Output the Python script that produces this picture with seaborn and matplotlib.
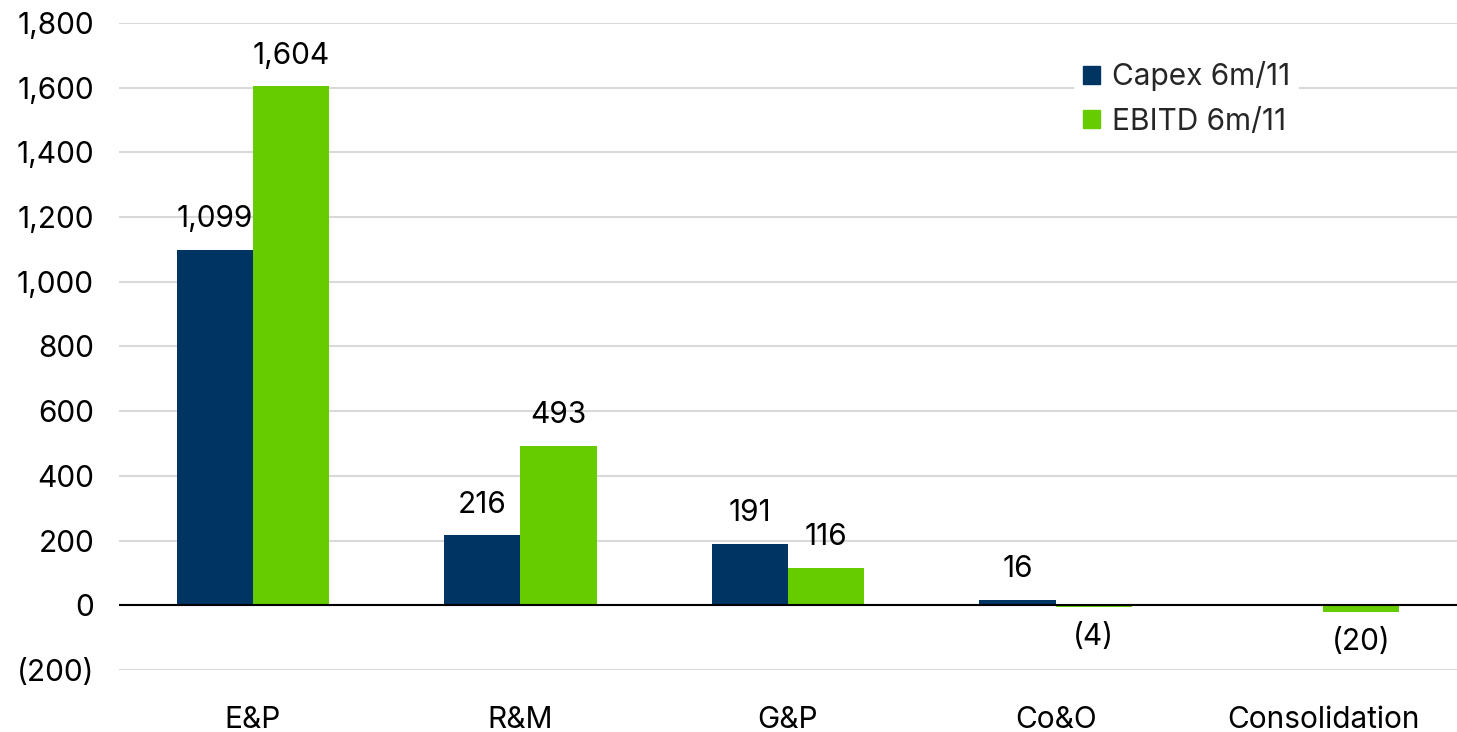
import matplotlib
matplotlib.use("Agg")
import matplotlib.pyplot as plt
import seaborn as sns
import pandas as pd
from matplotlib.ticker import FuncFormatter, MultipleLocator
from matplotlib.patches import Patch

segments = ["E&P", "R&M", "G&P", "Co&O", "Consolidation"]
capex = [1099, 216, 191, 16, 0]
ebitd = [1604, 493, 116, -4, -20]
series_names = ["Capex 6m/11", "EBITD 6m/11"]
colors = ["#003462", "#66CC00"]

df = pd.DataFrame({
    "segment": segments * 2,
    "value": capex + ebitd,
    "series": [series_names[0]] * len(segments) + [series_names[1]] * len(segments),
})

sns.set_theme(style="white")
plt.rcParams["font.family"] = ["Inter", "DejaVu Sans"]

fig = plt.figure(figsize=(14.57, 7.32), dpi=100)
ax = fig.add_axes([0.0817, 0.0847, 0.9183, 0.8839])

sns.barplot(data=df, x="segment", y="value", hue="series", palette=colors,
            width=0.57, saturation=1, linewidth=0, ax=ax, legend=False)

def paren(v, _=None):
    v = int(round(v))
    return f"({abs(v):,})" if v < 0 else f"{v:,}"

for container, vals in zip(ax.containers, [capex, ebitd]):
    labels = [paren(v) if v != 0 else "" for v in vals]
    ax.bar_label(container, labels=labels, padding=12, fontsize=21.5, color="black")

ax.set_ylim(-200, 1800)
ax.set_xlim(-0.5, 4.5)
ax.yaxis.set_major_locator(MultipleLocator(200))
ax.yaxis.set_major_formatter(FuncFormatter(paren))
ax.grid(axis="y", color="#d9d9d9", linewidth=1.5)
ax.set_axisbelow(True)
ax.axhline(0, color="black", linewidth=1.5, zorder=3)
for s in ax.spines.values():
    s.set_visible(False)
ax.set_xlabel("")
ax.set_ylabel("")
ax.tick_params(axis="y", labelsize=21.5, pad=18, length=0)
ax.tick_params(axis="x", labelsize=21.5, pad=26, length=0)
for t in ax.get_yticklabels() + ax.get_xticklabels():
    t.set_color("black")

handles = [Patch(color=c, label=n) for c, n in zip(colors, series_names)]
leg = ax.legend(handles=handles, loc="upper right", bbox_to_anchor=(0.893, 0.978),
                frameon=True, facecolor="white", edgecolor="none", framealpha=1,
                fontsize=21.5, handlelength=0.55, handleheight=0.55, handletextpad=0.4,
                labelspacing=0.55, borderpad=0.3)

fig.savefig("out.png", dpi=100, facecolor="white")
